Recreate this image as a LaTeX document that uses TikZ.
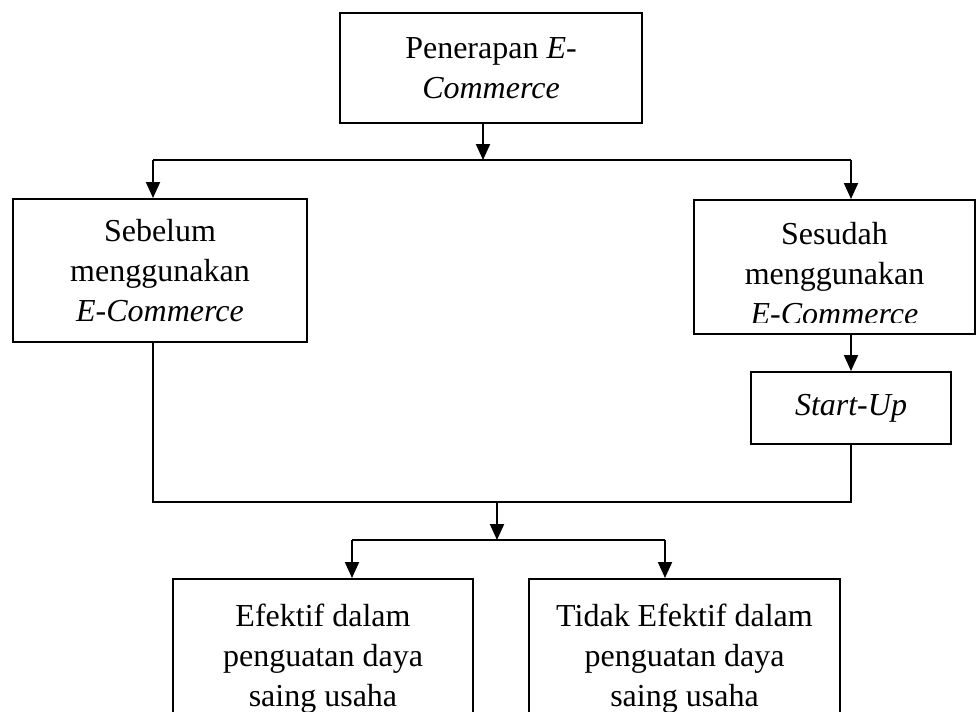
\documentclass[tikz,border=0pt]{standalone}
\usepackage{fontspec}
\setmainfont{Liberation Serif}
\usetikzlibrary{arrows.meta}

\tikzset{
  box/.style={draw,line width=1pt,rectangle,inner sep=0pt,anchor=north west,
    align=center,font=\fontsize{16}{20}\selectfont},
  txt/.style={inner sep=0pt,align=center,font=\fontsize{16}{20}\selectfont},
  arr/.style={line width=1pt,-{Triangle[length=8pt,width=7pt]}},
  link/.style={line width=1pt},
}

\begin{document}
\begin{tikzpicture}[x=0.5pt,y=-0.5pt]
\clip (0,0) rectangle (976,712);

% boxes
\node[box,minimum width=151pt,minimum height=55pt] (penerapan) at (339,12)
  {Penerapan \textit{E-}\\\textit{Commerce}};
\node[box,minimum width=147pt,minimum height=71.5pt] (sebelum) at (12,198)
  {Sebelum\\menggunakan\\\textit{E-Commerce}};
\node[box,minimum width=140.5pt,minimum height=67pt] (sesudah) at (693,199) {};
\begin{scope}
\clip (693,199) rectangle (974,322);
\node[txt] at ([yshift=-3.5pt]sesudah.center) {Sesudah\\menggunakan\\\textit{E-Commerce}};
\end{scope}
\node[box,minimum width=100pt,minimum height=36pt] (startup) at (750,371)
  {\textit{Start-Up}};
\node[box,minimum width=150pt,minimum height=80pt] (efektif) at (172,578)
  {Efektif dalam\\penguatan daya\\saing usaha};
\node[box,minimum width=155.5pt,minimum height=80pt] (tidak) at (528,578)
  {Tidak Efektif dalam\\penguatan daya\\saing usaha};

% joints
\coordinate (j1) at (483,160);
\coordinate (l1) at (153,160);
\coordinate (r1) at (851,160);
\coordinate (j2) at (497,502);
\coordinate (j3) at (497,540);
\coordinate (l2) at (352,540);
\coordinate (r2) at (665,540);

% connectors
\draw[arr] (penerapan.south -| j1) -- (j1);
\draw[link] (l1) -- (r1);
\draw[arr] (l1) -- (l1 |- sebelum.north);
\draw[arr] (r1) -- (r1 |- sesudah.north);
\draw[arr] (sesudah.south -| r1) -- (r1 |- startup.north);
\draw[link] (sebelum.south -| l1) |- (j2) -| (r1 |- startup.south);
\draw[arr] (j2) -- (j3);
\draw[link] (l2) -- (r2);
\draw[arr] (l2) -- (l2 |- efektif.north);
\draw[arr] (r2) -- (r2 |- tidak.north);
\end{tikzpicture}
\end{document}
